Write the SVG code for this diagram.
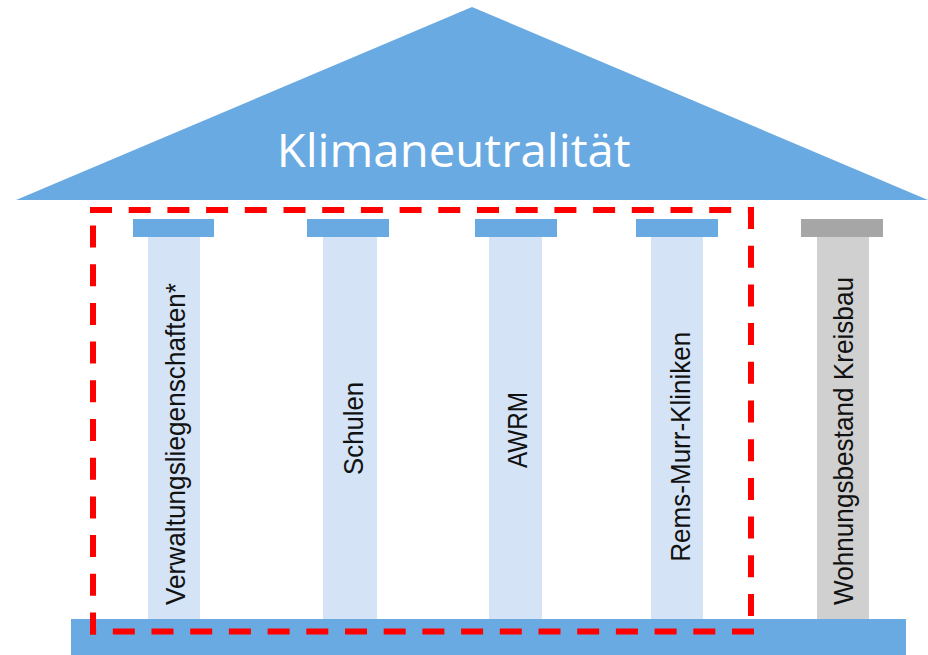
<svg xmlns="http://www.w3.org/2000/svg" width="928" height="655" viewBox="0 0 928 655">
<style>
.blue{fill:#6AAAE2}
.shaft{fill:#D4E3F5}
.gcap{fill:#A6A6A6}
.gshaft{fill:#D0D0D0}
.lbl{font-family:"Liberation Sans",Arial,sans-serif;font-size:28px;fill:#111111}
.title{font-family:"Open Sans","Noto Sans",sans-serif;font-size:46px;fill:#FFFFFF}
.dash{fill:none;stroke:#FF0000;stroke-width:6;stroke-dasharray:16 22.7;stroke-linecap:square}
</style>
<rect width="928" height="655" fill="#FFFFFF"/>
<g id="roof">
<polygon class="blue" points="16,200 472,7 928,200"/>
<text class="title" x="453.7" y="166.7" text-anchor="middle" textLength="354" lengthAdjust="spacingAndGlyphs">Klimaneutralität</text>
</g>
<g id="base">
<rect class="blue" x="71" y="619" width="835" height="36"/>
</g>
<g id="pillar-verwaltung">
<rect class="blue" x="133" y="219" width="81" height="18"/>
<rect class="shaft" x="148" y="237" width="52" height="382"/>
<text class="lbl" transform="translate(185,444) rotate(-90)" text-anchor="middle" textLength="322" lengthAdjust="spacingAndGlyphs">Verwaltungsliegenschaften*</text>
</g>
<g id="pillar-schulen">
<rect class="blue" x="307" y="219" width="82" height="18"/>
<rect class="shaft" x="323" y="237" width="54" height="382"/>
<text class="lbl" transform="translate(362.7,428.4) rotate(-90)" text-anchor="middle" textLength="93" lengthAdjust="spacingAndGlyphs">Schulen</text>
</g>
<g id="pillar-awrm">
<rect class="blue" x="475" y="219" width="82" height="18"/>
<rect class="shaft" x="489" y="237" width="53" height="382"/>
<text class="lbl" transform="translate(526.7,430) rotate(-90)" text-anchor="middle" textLength="76" lengthAdjust="spacingAndGlyphs">AWRM</text>
</g>
<g id="pillar-kliniken">
<rect class="blue" x="636" y="219" width="82" height="18"/>
<rect class="shaft" x="651" y="237" width="52" height="382"/>
<text class="lbl" transform="translate(690,446.7) rotate(-90)" text-anchor="middle" textLength="230" lengthAdjust="spacingAndGlyphs">Rems-Murr-Kliniken</text>
</g>
<g id="pillar-wohnungsbestand">
<rect class="gcap" x="801" y="219" width="82" height="18"/>
<rect class="gshaft" x="817" y="237" width="52" height="382"/>
<text class="lbl" transform="translate(853,441) rotate(-90)" text-anchor="middle" textLength="328" lengthAdjust="spacingAndGlyphs">Wohnungsbestand Kreisbau</text>
</g>
<g id="connectors">
<g id="frame">
<path class="dash" d="M93,210 H751"/>
<path class="dash" d="M751,210 V631.5"/>
<path class="dash" d="M751,631.5 H93"/>
<path class="dash" d="M93,631.5 V210"/>
</g>
</g>
</svg>
